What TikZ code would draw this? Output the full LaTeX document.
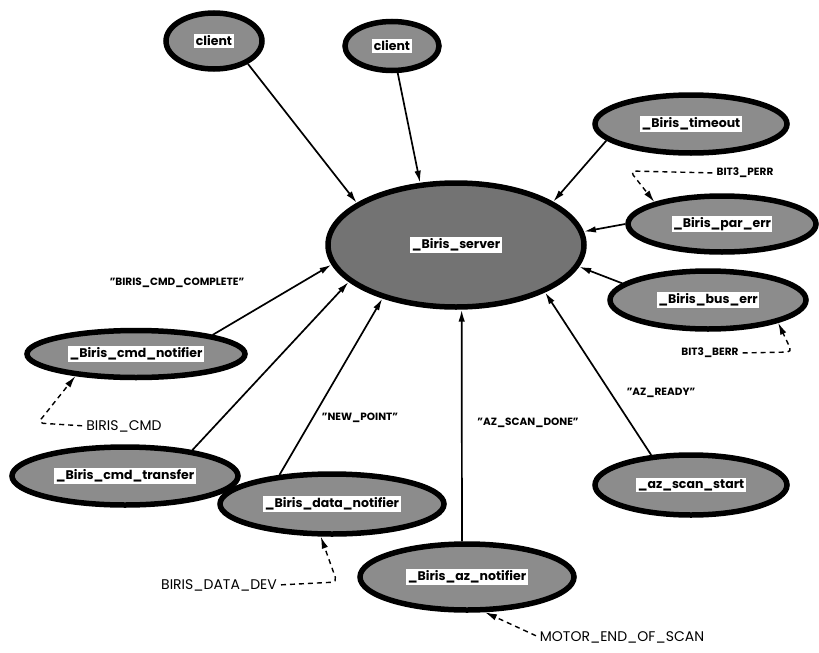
\documentclass[tikz,border=0pt]{standalone}
\usepackage{fontspec}
\setmainfont{Poppins}
\usetikzlibrary{arrows.meta,shapes.geometric}
\newcommand{\tasklbl}[1]{{\setlength{\fboxsep}{1.5pt}\colorbox{white}{#1}}}

\begin{document}
\begin{tikzpicture}[x=1pt,y=-1pt,>={Latex[length=12pt,width=6.5pt]},
 task/.style={ellipse,draw,line width=5.5pt,fill=black!45,inner sep=0pt,font=\bfseries\fontsize{12.5}{14}\selectfont},
 msg/.style={->,line width=1.7pt},
 sig/.style={->,line width=1.4pt,dash pattern=on 5pt off 4pt,shorten <=3pt,rounded corners=5pt},
 lbl/.style={font=\bfseries\fontsize{10.5}{12}\selectfont,inner sep=1pt},
 biglbl/.style={font=\fontsize{14}{16}\selectfont,inner sep=1pt}]
 \useasboundingbox (0,0) rectangle (819,653);
 \node[task,minimum width=96,minimum height=56] (client1) at (214,41) {\tasklbl{client}};
 \node[task,minimum width=94,minimum height=49] (client2) at (392,46) {\tasklbl{client}};
 \node[task,fill=black!55,minimum width=256,minimum height=124] (server) at (456,245) {\tasklbl{\_Biris\_server}};
 \node[task,minimum width=192,minimum height=58] (timeout) at (691,124) {\tasklbl{\_Biris\_timeout}};
 \node[task,minimum width=188,minimum height=56] (parerr) at (722,224) {\tasklbl{\_Biris\_par\_err}};
 \node[task,minimum width=196,minimum height=58] (buserr) at (708,300) {\tasklbl{\_Biris\_bus\_err}};
 \node[task,minimum width=218,minimum height=47] (cmdnotif) at (136,354) {\tasklbl{\_Biris\_cmd\_notifier}};
 \node[task,minimum width=226,minimum height=58] (cmdxfer) at (125,476) {\tasklbl{\_Biris\_cmd\_transfer}};
 \node[task,minimum width=224,minimum height=60] (datanotif) at (332,504) {\tasklbl{\_Biris\_data\_notifier}};
 \node[task,minimum width=214,minimum height=66] (aznotif) at (467,577) {\tasklbl{\_Biris\_az\_notifier}};
 \node[task,minimum width=192,minimum height=60] (azstart) at (691,485) {\tasklbl{\_az\_scan\_start}};

 \node[lbl] (cmdcomplete) at (177,283) {"BIRIS\_CMD\_COMPLETE"};
 \node[lbl] (newpoint) at (360,418) {"NEW\_POINT"};
 \node[lbl] (scandone) at (528,423) {"AZ\_SCAN\_DONE"};
 \node[lbl] (azready) at (661,393) {"AZ\_READY"};
 \node[lbl] (perr) at (745,173) {BIT3\_PERR};
 \node[lbl] (berr) at (710,353) {BIT3\_BERR};
 \node[biglbl] (cmdsig) at (124,426) {BIRIS\_CMD};
 \node[biglbl] (datadev) at (219,585) {BIRIS\_DATA\_DEV};
 \node[biglbl] (motor) at (622,637) {MOTOR\_END\_OF\_SCAN};

 \draw[msg] (client1.-34) -- (server.157);
 \draw[msg] (client2.-78) -- (server.120);
 \draw[msg] (timeout.-169) -- (server.24);
 \draw[msg] (parerr.180) -- (server.6);
 \draw[msg] (buserr.169) -- (server.-10);
 \draw[msg] (azstart.143) -- (server.-28);
 \draw[msg] (aznotif.98) -- (server.-85);
 \draw[msg] (datanotif.151) -- (server.-144);
 \draw[msg] (cmdxfer.21) -- (server.-161);
 \draw[msg] (cmdnotif.14) -- (server.-171);

 \coordinate (perrbend) at (630,171);
 \coordinate (berrbend) at (792,352);
 \coordinate (cmdbend) at (38,423);
 \coordinate (devbend) at (337,582);
 \draw[sig] (perr.west) -- (perrbend) -- (parerr.162);
 \draw[sig] (berr.east) -- (berrbend) -- (buserr.-18);
 \draw[sig] (cmdsig.west) -- (cmdbend) -- (cmdnotif.-160);
 \draw[sig] (datadev.east) -- (devbend) -- (datanotif.-109);
 \draw[sig] (motor.west) -- (aznotif.-63);
\end{tikzpicture}
\end{document}
